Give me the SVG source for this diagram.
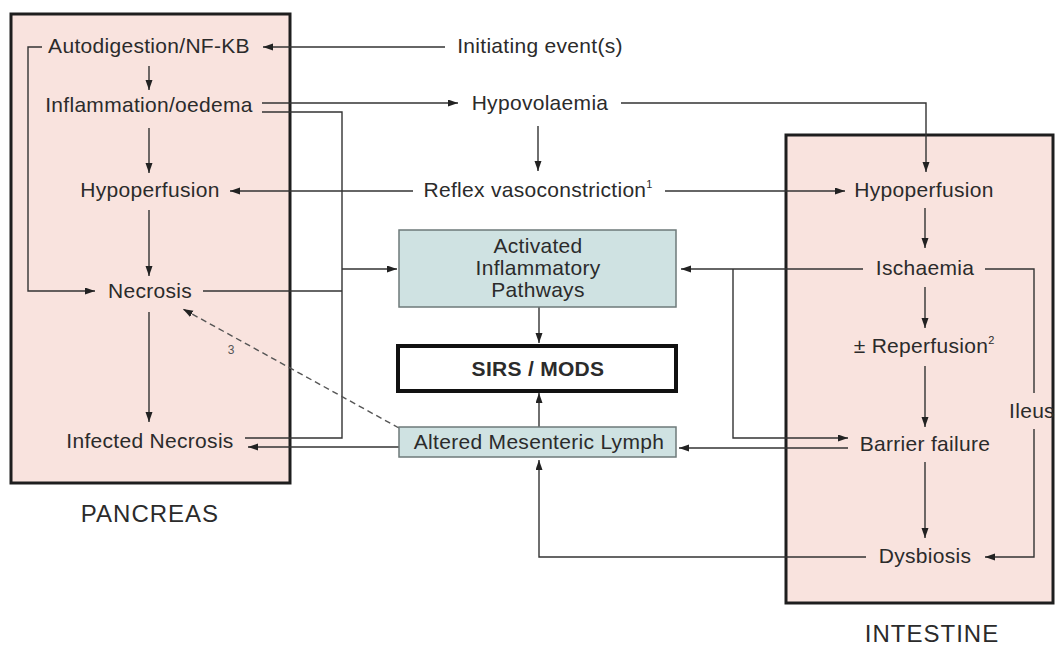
<svg xmlns="http://www.w3.org/2000/svg" width="1055" height="646" viewBox="0 0 1055 646">
<defs>
<marker id="ah" markerUnits="userSpaceOnUse" markerWidth="11" markerHeight="8" refX="10" refY="3.5" orient="auto">
<path d="M0,0 L10,3.5 L0,7 z" fill="#222"/>
</marker>
<style>
text{font-family:"Liberation Sans",Arial,sans-serif;font-size:21px;letter-spacing:0.3px;fill:#2b2b2b;text-anchor:middle}
.organ{fill:#f9e3de;stroke:#1e1e1e;stroke-width:3}
.pbox{fill:#cfe2e2;stroke:#6e7a7a;stroke-width:1.5}
.sirs{fill:#fff;stroke:#111;stroke-width:4}
.c{fill:none;stroke:#333;stroke-width:1.4}
.a{marker-end:url(#ah)}
.d{stroke-dasharray:6,4;stroke:#555}
.sup{font-size:11px;letter-spacing:0}
.big{font-size:24px;letter-spacing:1px}
.bold{font-weight:bold;font-size:21px}
.small{font-size:12px;letter-spacing:0;fill:#555}
</style>
</defs>
<rect width="1055" height="646" fill="#fff"/>

<g id="pancreas">
<rect class="organ" x="11" y="14" width="279" height="469"/>
<text class="big" x="150" y="522">PANCREAS</text>
</g>
<g id="intestine">
<rect class="organ" x="786" y="135" width="267" height="468"/>
<text class="big" x="932" y="642">INTESTINE</text>
</g>

<g id="connectors">
<path class="c a" d="M445,47 H263"/>
<path class="c a" d="M149,66 V90"/>
<path class="c a" d="M149,128 V173"/>
<path class="c a" d="M149,210 V276"/>
<path class="c a" d="M149,312 V422"/>
<path class="c a" d="M42,47 H28 V291 H95"/>
<path class="c a" d="M262,103 H458"/>
<path class="c" d="M262,112 H342 V438 H245"/>
<path class="c" d="M203,291 H342"/>
<path class="c a" d="M342,269 H397"/>
<path class="c a" d="M538,126 V171"/>
<path class="c a" d="M621,103 H926 V172"/>
<path class="c a" d="M413,191 H230"/>
<path class="c a" d="M665,191 H845"/>
<path class="c a" d="M925,208 V248"/>
<path class="c a" d="M925,287 V328"/>
<path class="c a" d="M925,366 V427"/>
<path class="c a" d="M925,462 V538"/>
<path class="c a" d="M863,269 H681"/>
<path class="c a" d="M733,269 V438 H848"/>
<path class="c a" d="M848,448 H679"/>
<path class="c" d="M985,269 H1034 V393"/>
<path class="c a" d="M1034,429 V557 H985"/>
<path class="c a" d="M866,557 H539 V460"/>
<path class="c a" d="M539,427 V393"/>
<path class="c a" d="M539,307 V343"/>
<path class="c a" d="M399,447 H248"/>
<path class="c a d" d="M399,428 L183,309"/>
</g>

<g id="n-autodigestion"><text x="149" y="53">Autodigestion/NF-KB</text></g>
<g id="n-initiating"><text x="540" y="53">Initiating event(s)</text></g>
<g id="n-inflammation"><text x="149" y="112">Inflammation/oedema</text></g>
<g id="n-hypovolaemia"><text x="540" y="110">Hypovolaemia</text></g>
<g id="n-hypoperfusion-p"><text x="150" y="197">Hypoperfusion</text></g>
<g id="n-reflex"><text x="538" y="197">Reflex vasoconstriction<tspan class="sup" dy="-9">1</tspan></text></g>
<g id="n-hypoperfusion-i"><text x="924" y="197">Hypoperfusion</text></g>
<g id="n-activated">
<rect class="pbox" x="399" y="230" width="277" height="77"/>
<text x="538" y="253">Activated</text>
<text x="538" y="275">Inflammatory</text>
<text x="538" y="297">Pathways</text>
</g>
<g id="n-necrosis"><text x="150" y="298">Necrosis</text></g>
<g id="n-ischaemia"><text x="925" y="275">Ischaemia</text></g>
<g id="n-sirs">
<rect class="sirs" x="398" y="346" width="278" height="45"/>
<text class="bold" x="538" y="376">SIRS / MODS</text>
</g>
<g id="n-reperfusion"><text x="924" y="353">± Reperfusion<tspan class="sup" dy="-9">2</tspan></text></g>
<g id="n-ileus"><text x="1032" y="418">Ileus</text></g>
<g id="n-lymph">
<rect class="pbox" x="399" y="427" width="277" height="30"/>
<text x="539" y="449">Altered Mesenteric Lymph</text>
</g>
<g id="n-infected"><text x="150" y="448">Infected Necrosis</text></g>
<g id="n-barrier"><text x="925" y="451">Barrier failure</text></g>
<g id="n-dysbiosis"><text x="925" y="563">Dysbiosis</text></g>
<g id="label-3"><text class="small" x="231" y="354">3</text></g>
</svg>
